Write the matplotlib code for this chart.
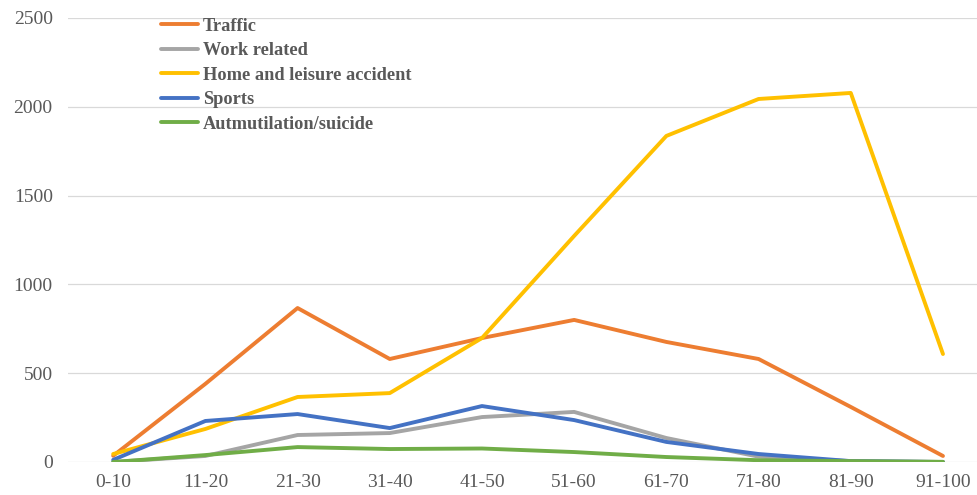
import matplotlib.pyplot as plt

# DATA =================================================================================================================

AGE_GROUPS = ["0-10", "11-20", "21-30", "31-40", "41-50", "51-60", "61-70", "71-80", "81-90", "91-100"]

TRAFFIC = [35, 440, 867, 580, 698, 800, 676, 580, 310, 34]
WORK_RELATED = [0, 34, 152, 163, 253, 282, 135, 30, 5, 0]
HOME_LEISURE = [45, 186, 366, 388, 698, 1273, 1836, 2044, 2078, 608]
SPORTS = [12, 231, 270, 191, 315, 236, 113, 45, 5, 0]
SUICIDE = [0, 39, 84, 73, 76, 56, 28, 10, 5, 1]

SERIES = [
    ("Traffic", TRAFFIC, "#ED7D31"),
    ("Work related", WORK_RELATED, "#A5A5A5"),
    ("Home and leisure accident", HOME_LEISURE, "#FFC000"),
    ("Sports", SPORTS, "#4472C4"),
    ("Autmutilation/suicide", SUICIDE, "#70AD47"),
]

Y_TICKS = [0, 500, 1000, 1500, 2000, 2500]

# PLOT =================================================================================================================

plt.rcParams["font.family"] = ["Liberation Serif", "DejaVu Serif"]

fig = plt.figure(figsize=(9.78, 4.95), dpi=100)
ax = fig.add_axes([68 / 978, 33 / 495, 910 / 978, 444 / 495])

x = list(range(len(AGE_GROUPS)))
for name, values, color in SERIES:
    ax.plot(x, values, color=color, linewidth=2.8, label=name, solid_joinstyle="round", solid_capstyle="round")

ax.set_xlim(-0.49, 9.38)
ax.set_ylim(0, 2500)
ax.set_xticks(x)
ax.set_xticklabels(AGE_GROUPS)
ax.set_yticks(Y_TICKS)

ax.grid(axis="y", color="#D9D9D9", linewidth=0.9)
ax.set_axisbelow(True)
for side in ("top", "right", "left", "bottom"):
    ax.spines[side].set_visible(False)
ax.tick_params(axis="both", length=0, labelsize=14, colors="#595959")
ax.tick_params(axis="y", pad=11)
ax.tick_params(axis="x", pad=8.5)

ax.legend(
    loc="upper left",
    bbox_to_anchor=(86 / 910, 1.017),
    frameon=False,
    prop={"weight": "bold", "size": 13.2},
    handlelength=2.0,
    handletextpad=0.27,
    labelspacing=0.41,
    borderaxespad=0,
    labelcolor="#595959",
)

fig.savefig("out.png", dpi=100)
